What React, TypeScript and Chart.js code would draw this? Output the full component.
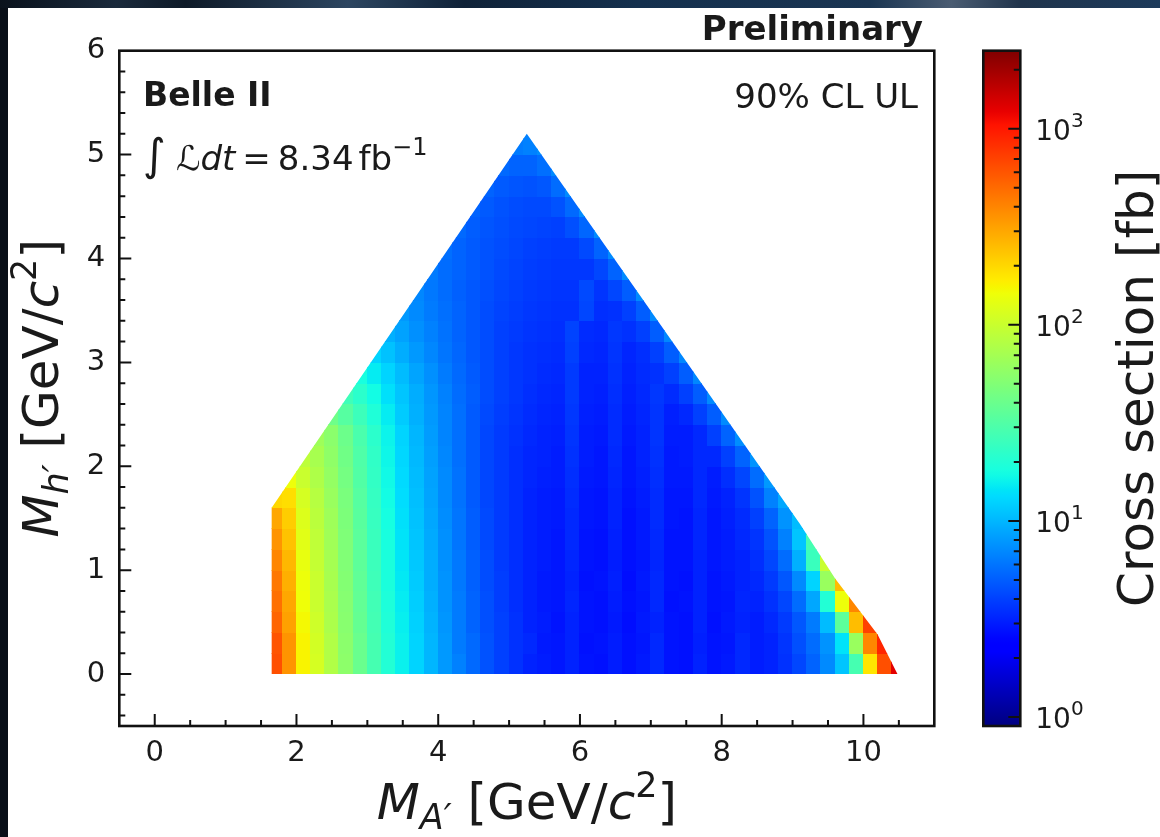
import React, { useEffect, useRef } from 'react';
import { Chart, registerables } from 'chart.js';

Chart.register(...registerables);

const FONT = '"DejaVu Sans", "Liberation Sans", sans-serif';
const INK = '#1a1a1a';

// ---------------- data ----------------
// cell centres of the scan grid
const massA = [1.7, 1.9, 2.1, 2.3, 2.5, 2.7, 2.9, 3.1, 3.3, 3.5, 3.7, 3.9, 4.1, 4.3, 4.5, 4.7, 4.9, 5.1, 5.3, 5.5, 5.7, 5.9, 6.1, 6.3, 6.5, 6.7, 6.9, 7.1, 7.3, 7.5, 7.7, 7.9, 8.1, 8.3, 8.5, 8.7, 8.9, 9.1, 9.3, 9.5, 9.7, 9.9, 10.1, 10.3, 10.5];
const massH = [0.1, 0.3, 0.5, 0.7, 0.9, 1.1, 1.3, 1.5, 1.7, 1.9, 2.1, 2.3, 2.5, 2.7, 2.9, 3.1, 3.3, 3.5, 3.7, 3.9, 4.1, 4.3, 4.5, 4.7, 4.9, 5.1];
// index in massA of the first cell of each massH row
const rowFirstCol = [0, 0, 0, 0, 0, 0, 0, 0, 0, 1, 2, 3, 4, 5, 6, 7, 8, 9, 10, 11, 12, 13, 14, 15, 16, 17];
// log10 of the 90% CL upper limit on the cross section [fb], one list per massH row
const ulRows: number[][] = [
  [2.8, 2.55, 2.2, 2.05, 1.9, 1.75, 1.6, 1.45, 1.3, 1.2, 1.1, 1.0, 0.9, 0.82, 0.74, 0.66, 0.6, 0.55, 0.5, 0.48, 0.46, 0.5, 0.45, 0.44, 0.48, 0.44, 0.47, 0.52, 0.45, 0.44, 0.5, 0.45, 0.47, 0.52, 0.48, 0.5, 0.55, 0.62, 0.72, 0.85, 1.05, 1.45, 2.25, 2.8, 3.1],
  [2.78, 2.55, 2.2, 2.04, 1.9, 1.74, 1.6, 1.45, 1.3, 1.2, 1.1, 1.0, 0.9, 0.8, 0.74, 0.66, 0.6, 0.55, 0.52, 0.47, 0.46, 0.5, 0.44, 0.45, 0.48, 0.44, 0.46, 0.52, 0.45, 0.44, 0.49, 0.45, 0.46, 0.52, 0.48, 0.5, 0.56, 0.65, 0.75, 0.88, 1.15, 1.8, 2.6, 2.95],
  [2.72, 2.5, 2.18, 2.02, 1.88, 1.73, 1.58, 1.44, 1.29, 1.19, 1.09, 0.99, 0.89, 0.8, 0.72, 0.65, 0.6, 0.55, 0.5, 0.48, 0.45, 0.5, 0.45, 0.44, 0.47, 0.43, 0.47, 0.5, 0.45, 0.44, 0.5, 0.44, 0.47, 0.5, 0.48, 0.52, 0.58, 0.68, 0.8, 1.02, 1.55, 2.4, 2.85],
  [2.68, 2.48, 2.16, 2.0, 1.87, 1.72, 1.57, 1.43, 1.28, 1.18, 1.08, 0.98, 0.88, 0.8, 0.72, 0.65, 0.59, 0.54, 0.5, 0.47, 0.46, 0.51, 0.45, 0.44, 0.48, 0.44, 0.46, 0.52, 0.44, 0.45, 0.5, 0.45, 0.46, 0.51, 0.5, 0.55, 0.62, 0.75, 0.95, 1.3, 2.15, 2.6],
  [2.65, 2.45, 2.15, 2.0, 1.86, 1.71, 1.56, 1.42, 1.27, 1.17, 1.07, 0.97, 0.88, 0.79, 0.71, 0.64, 0.59, 0.54, 0.5, 0.47, 0.46, 0.5, 0.44, 0.45, 0.49, 0.43, 0.47, 0.52, 0.45, 0.44, 0.5, 0.45, 0.47, 0.5, 0.52, 0.58, 0.68, 0.85, 1.1, 1.8, 2.4],
  [2.6, 2.42, 2.13, 1.98, 1.85, 1.7, 1.55, 1.41, 1.27, 1.16, 1.06, 0.97, 0.87, 0.79, 0.71, 0.64, 0.58, 0.54, 0.5, 0.48, 0.46, 0.51, 0.45, 0.44, 0.48, 0.44, 0.46, 0.51, 0.45, 0.45, 0.5, 0.46, 0.48, 0.5, 0.54, 0.62, 0.75, 0.98, 1.4, 2.0],
  [2.55, 2.38, 2.1, 1.96, 1.83, 1.69, 1.54, 1.4, 1.26, 1.15, 1.05, 0.96, 0.87, 0.78, 0.7, 0.63, 0.58, 0.54, 0.5, 0.48, 0.46, 0.52, 0.45, 0.44, 0.49, 0.44, 0.47, 0.52, 0.45, 0.45, 0.51, 0.46, 0.48, 0.52, 0.56, 0.66, 0.82, 1.05, 1.45],
  [2.48, 2.34, 2.08, 1.94, 1.82, 1.68, 1.53, 1.39, 1.25, 1.14, 1.04, 0.95, 0.86, 0.78, 0.7, 0.63, 0.58, 0.54, 0.5, 0.48, 0.47, 0.52, 0.46, 0.45, 0.5, 0.44, 0.47, 0.53, 0.46, 0.45, 0.51, 0.46, 0.49, 0.53, 0.6, 0.72, 0.88, 1.02],
  [2.3, 2.28, 2.05, 1.92, 1.8, 1.67, 1.52, 1.38, 1.24, 1.13, 1.03, 0.94, 0.85, 0.77, 0.69, 0.62, 0.58, 0.54, 0.5, 0.48, 0.47, 0.53, 0.46, 0.45, 0.5, 0.45, 0.48, 0.53, 0.46, 0.46, 0.52, 0.47, 0.5, 0.56, 0.66, 0.82, 0.95],
  [2.15, 2.0, 1.89, 1.78, 1.65, 1.5, 1.37, 1.23, 1.12, 1.02, 0.93, 0.85, 0.77, 0.69, 0.62, 0.58, 0.54, 0.51, 0.49, 0.48, 0.54, 0.47, 0.46, 0.51, 0.46, 0.49, 0.54, 0.47, 0.47, 0.52, 0.48, 0.54, 0.62, 0.75, 0.9],
  [1.95, 1.86, 1.76, 1.63, 1.49, 1.36, 1.22, 1.11, 1.01, 0.92, 0.84, 0.76, 0.69, 0.62, 0.58, 0.54, 0.51, 0.5, 0.48, 0.55, 0.48, 0.46, 0.52, 0.46, 0.5, 0.55, 0.47, 0.48, 0.52, 0.52, 0.6, 0.72, 0.88],
  [1.82, 1.74, 1.61, 1.47, 1.34, 1.21, 1.1, 1.0, 0.91, 0.83, 0.76, 0.69, 0.62, 0.58, 0.55, 0.52, 0.5, 0.49, 0.56, 0.48, 0.47, 0.53, 0.47, 0.5, 0.56, 0.48, 0.48, 0.52, 0.6, 0.72, 0.86],
  [1.62, 1.52, 1.41, 1.29, 1.18, 1.07, 0.98, 0.9, 0.83, 0.76, 0.69, 0.63, 0.59, 0.56, 0.53, 0.51, 0.5, 0.57, 0.49, 0.48, 0.53, 0.48, 0.51, 0.56, 0.49, 0.52, 0.6, 0.7, 0.85],
  [1.42, 1.34, 1.24, 1.14, 1.05, 0.97, 0.89, 0.82, 0.75, 0.7, 0.64, 0.6, 0.57, 0.54, 0.52, 0.51, 0.58, 0.5, 0.49, 0.54, 0.49, 0.52, 0.57, 0.53, 0.6, 0.7, 0.85],
  [1.26, 1.18, 1.1, 1.02, 0.94, 0.87, 0.8, 0.74, 0.69, 0.64, 0.6, 0.57, 0.55, 0.53, 0.52, 0.58, 0.5, 0.5, 0.55, 0.5, 0.53, 0.55, 0.6, 0.7, 0.84],
  [1.1, 1.04, 0.97, 0.9, 0.84, 0.78, 0.73, 0.68, 0.64, 0.6, 0.57, 0.55, 0.54, 0.53, 0.6, 0.52, 0.51, 0.56, 0.51, 0.54, 0.6, 0.7, 0.84],
  [0.98, 0.93, 0.87, 0.82, 0.77, 0.72, 0.68, 0.64, 0.6, 0.58, 0.56, 0.55, 0.54, 0.61, 0.53, 0.52, 0.57, 0.55, 0.6, 0.7, 0.84],
  [0.9, 0.85, 0.8, 0.76, 0.72, 0.68, 0.64, 0.61, 0.59, 0.57, 0.56, 0.55, 0.55, 0.62, 0.54, 0.55, 0.6, 0.7, 0.85],
  [0.84, 0.79, 0.75, 0.71, 0.68, 0.65, 0.62, 0.6, 0.58, 0.57, 0.56, 0.56, 0.63, 0.56, 0.62, 0.7, 0.85],
  [0.8, 0.75, 0.72, 0.69, 0.66, 0.63, 0.61, 0.59, 0.58, 0.57, 0.57, 0.57, 0.62, 0.72, 0.85],
  [0.76, 0.72, 0.69, 0.66, 0.64, 0.62, 0.6, 0.59, 0.58, 0.58, 0.63, 0.72, 0.85],
  [0.74, 0.7, 0.67, 0.65, 0.63, 0.62, 0.61, 0.6, 0.65, 0.73, 0.85],
  [0.72, 0.69, 0.66, 0.64, 0.63, 0.63, 0.66, 0.74, 0.85],
  [0.72, 0.69, 0.67, 0.66, 0.68, 0.75, 0.85],
  [0.74, 0.72, 0.72, 0.76, 0.85],
  [0.8, 0.82, 0.86],
];
// outline of the scanned (kinematically allowed) region
const edgeA = [1.65, 1.65, 5.25, 9.1, 9.6, 10.2, 10.48];
const edgeH = [0, 1.6, 5.2, 1.45, 0.92, 0.38, 0];

// axes
const xRange = [-0.5, 11];
const yRange = [-0.5, 6];
const zRange = [0.9, 2500];
const xTickValues = [0, 2, 4, 6, 8, 10];
const yTickValues = [0, 1, 2, 3, 4, 5, 6];
const zTickValues = [1, 10, 100, 1000];

// texts
const experimentLabel = 'Belle II';
const statusLabel = 'Preliminary';
const limitLabel = '90% CL UL';
const colorbarTitle = 'Cross section [fb]';

// ---------------- helpers ----------------
const JET_R = [[0, 0], [0.35, 0], [0.66, 1], [0.89, 1], [1, 0.5]];
const JET_G = [[0, 0], [0.125, 0], [0.375, 1], [0.64, 1], [0.91, 0], [1, 0]];
const JET_B = [[0, 0.5], [0.11, 1], [0.34, 1], [0.65, 0], [1, 0]];
function chan(t: number, pts: number[][]) {
  for (let i = 0; i < pts.length - 1; i++) {
    const [x0, y0] = pts[i];
    const [x1, y1] = pts[i + 1];
    if (t <= x1) return y0 + ((t - x0) / (x1 - x0)) * (y1 - y0);
  }
  return pts[pts.length - 1][1];
}
function jet(t: number) {
  const c = Math.max(0, Math.min(1, t));
  const r = Math.round(chan(c, JET_R) * 255);
  const g = Math.round(chan(c, JET_G) * 255);
  const b = Math.round(chan(c, JET_B) * 255);
  return `rgb(${r},${g},${b})`;
}
const zLogMin = Math.log10(zRange[0]);
const zLogMax = Math.log10(zRange[1]);
const normLog = (lv: number) => (lv - zLogMin) / (zLogMax - zLogMin);

type Part = { t: string; size: number; italic?: boolean; bold?: boolean; dy?: number; gap?: number };
const partFont = (p: Part) => `${p.italic ? 'italic ' : ''}${p.bold ? 'bold ' : ''}${p.size}px ${FONT}`;
function drawRich(ctx: CanvasRenderingContext2D, parts: Part[], x: number, y: number, align: 'left' | 'center' | 'right') {
  let w = 0;
  for (const p of parts) {
    ctx.font = partFont(p);
    w += (p.gap || 0) + ctx.measureText(p.t).width;
  }
  let cx = align === 'left' ? x : align === 'center' ? x - w / 2 : x - w;
  ctx.textAlign = 'left';
  ctx.textBaseline = 'alphabetic';
  for (const p of parts) {
    cx += p.gap || 0;
    ctx.font = partFont(p);
    ctx.fillText(p.t, cx, y + (p.dy || 0));
    cx += ctx.measureText(p.t).width;
  }
}

const xLabelParts: Part[] = [
  { t: 'M', size: 50, italic: true },
  { t: 'A′', size: 35, italic: true, dy: 10 },
  { t: ' [GeV/', size: 50 },
  { t: 'c', size: 50, italic: true },
  { t: '2', size: 35, dy: -22 },
  { t: ']', size: 50 },
];
const yLabelParts: Part[] = [
  { t: 'M', size: 50, italic: true },
  { t: 'h′', size: 35, italic: true, dy: 10 },
  { t: ' [GeV/', size: 50 },
  { t: 'c', size: 50, italic: true },
  { t: '2', size: 35, dy: -22 },
  { t: ']', size: 50 },
];
const lumiParts: Part[] = [
  { t: '∫', size: 44 },
  { t: 'ℒ', size: 34, gap: 10 },
  { t: 'dt', size: 34, italic: true },
  { t: '=', size: 34, gap: 7 },
  { t: '8.34', size: 34, gap: 7 },
  { t: 'fb', size: 34, gap: 5 },
  { t: '−1', size: 24, dy: -15 },
];

// ---------------- plugins ----------------
const FRAME = 8;
const backgroundPlugin = {
  id: 'pageBackground',
  beforeDraw(chart: any) {
    const { ctx, width, height } = chart;
    ctx.save();
    const g = ctx.createLinearGradient(0, 0, width, 0);
    g.addColorStop(0, '#0a121c');
    g.addColorStop(0.1, '#1a2a3c');
    g.addColorStop(0.16, '#0e1a28');
    g.addColorStop(0.3, '#2c4560');
    g.addColorStop(0.4, '#0f2238');
    g.addColorStop(0.55, '#14304e');
    g.addColorStop(0.75, '#1a3552');
    g.addColorStop(0.82, '#4a5c72');
    g.addColorStop(0.88, '#20344c');
    g.addColorStop(1, '#1c3a5a');
    ctx.fillStyle = g;
    ctx.fillRect(0, 0, width, height);
    ctx.fillStyle = '#090f18';
    ctx.fillRect(0, FRAME, FRAME, height - FRAME);
    ctx.fillStyle = '#ffffff';
    ctx.fillRect(FRAME, FRAME, width - FRAME, height - FRAME);
    ctx.restore();
  },
};

const heatmapPlugin = {
  id: 'heatmapCells',
  beforeDatasetsDraw(chart: any) {
    const { ctx } = chart;
    const xs = chart.scales.x;
    const ys = chart.scales.y;
    const cells = chart.data.datasets[0].data as { x: number; y: number; v: number }[];
    const hx = (massA[1] - massA[0]) / 2;
    const hy = (massH[1] - massH[0]) / 2;
    ctx.save();
    ctx.beginPath();
    edgeA.forEach((a, i) => {
      const px = xs.getPixelForValue(a);
      const py = ys.getPixelForValue(edgeH[i]);
      if (i === 0) ctx.moveTo(px, py);
      else ctx.lineTo(px, py);
    });
    ctx.closePath();
    ctx.clip();
    for (const c of cells) {
      const x0 = Math.floor(xs.getPixelForValue(c.x - hx));
      const x1 = Math.ceil(xs.getPixelForValue(c.x + hx));
      const y0 = Math.floor(ys.getPixelForValue(c.y + hy));
      const y1 = Math.ceil(ys.getPixelForValue(c.y - hy));
      ctx.fillStyle = jet(normLog(c.v));
      ctx.fillRect(x0, y0, x1 - x0, y1 - y0);
    }
    ctx.restore();
  },
};

const decorPlugin = {
  id: 'decorations',
  afterDraw(chart: any) {
    const { ctx, chartArea } = chart;
    const { left, right, top, bottom } = chartArea;
    const xs = chart.scales.x;
    const ys = chart.scales.y;
    const zs = chart.scales.cb;
    ctx.save();

    // axis ticks (pointing inwards)
    ctx.strokeStyle = '#111';
    ctx.lineWidth = 2;
    ctx.beginPath();
    for (let k = -1; k <= 22; k++) {
      const v = k * 0.5;
      if (v <= xRange[0] || v >= xRange[1]) continue;
      const px = xs.getPixelForValue(v);
      const len = xTickValues.includes(v) ? 12 : 6;
      ctx.moveTo(px, bottom);
      ctx.lineTo(px, bottom - len);
    }
    for (let k = -2; k <= 30; k++) {
      const v = Math.round(k * 2) / 10;
      if (v <= yRange[0] || v >= yRange[1]) continue;
      const py = ys.getPixelForValue(v);
      const len = yTickValues.includes(v) ? 12 : 6;
      ctx.moveTo(left, py);
      ctx.lineTo(left + len, py);
    }
    ctx.stroke();

    // frame
    ctx.lineWidth = 2.6;
    ctx.strokeRect(left, top, right - left, bottom - top);

    // colorbar
    const cbLeft = right + 49;
    const cbW = 37;
    const cbTop = zs.getPixelForValue(zRange[1]);
    const cbBot = zs.getPixelForValue(zRange[0]);
    const grad = ctx.createLinearGradient(0, cbBot, 0, cbTop);
    for (let i = 0; i <= 100; i++) grad.addColorStop(i / 100, jet(i / 100));
    ctx.fillStyle = grad;
    ctx.fillRect(cbLeft, cbTop, cbW, cbBot - cbTop);
    ctx.strokeStyle = '#111';
    ctx.lineWidth = 2;
    ctx.beginPath();
    for (let d = -1; d <= 3; d++) {
      for (let m = 1; m <= 9; m++) {
        const v = m * Math.pow(10, d);
        if (v < zRange[0] || v > zRange[1]) continue;
        const py = zs.getPixelForValue(v);
        const len = m === 1 ? 12 : 6.5;
        ctx.moveTo(cbLeft + cbW, py);
        ctx.lineTo(cbLeft + cbW - len, py);
      }
    }
    ctx.stroke();
    ctx.lineWidth = 2.6;
    ctx.strokeRect(cbLeft, cbTop, cbW, cbBot - cbTop);

    ctx.fillStyle = INK;
    for (const v of zTickValues) {
      const py = zs.getPixelForValue(v);
      drawRich(ctx, [
        { t: '10', size: 28 },
        { t: String(Math.round(Math.log10(v))), size: 20, dy: -13 },
      ], cbLeft + cbW + 15, py + 11, 'left');
    }

    // colorbar title
    ctx.save();
    ctx.translate(1153, (cbTop + cbBot) / 2);
    ctx.rotate(-Math.PI / 2);
    drawRich(ctx, [{ t: colorbarTitle, size: 50 }], 0, 0, 'center');
    ctx.restore();

    // axis titles
    drawRich(ctx, xLabelParts, (left + right) / 2, 819, 'center');
    ctx.save();
    ctx.translate(58, (top + bottom) / 2);
    ctx.rotate(-Math.PI / 2);
    drawRich(ctx, yLabelParts, 0, 0, 'center');
    ctx.restore();

    // annotations
    drawRich(ctx, [{ t: statusLabel, size: 34, bold: true }], 923, 40, 'right');
    drawRich(ctx, [{ t: experimentLabel, size: 33, bold: true }], 143, 106, 'left');
    drawRich(ctx, [{ t: limitLabel, size: 34 }], 918, 108, 'right');
    drawRich(ctx, lumiParts, 143, 170, 'left');

    ctx.restore();
  },
};

// ---------------- component ----------------
export default function App() {
  const ref = useRef<HTMLCanvasElement>(null);

  useEffect(() => {
    document.body.style.margin = '0';
    document.body.style.overflow = 'hidden';
    const canvas = ref.current;
    if (!canvas) return;

    const cells: { x: number; y: number; v: number }[] = [];
    ulRows.forEach((row, i) => {
      row.forEach((v, k) => {
        cells.push({ x: massA[rowFirstCol[i] + k], y: massH[i], v });
      });
    });

    const tickFont = { family: FONT, size: 29 };
    const chart = new Chart(canvas, {
      type: 'scatter',
      data: {
        datasets: [
          {
            label: 'UL',
            data: cells as any,
            pointRadius: 0,
            pointHoverRadius: 0,
            showLine: false,
          },
        ],
      },
      options: {
        responsive: false,
        animation: false,
        devicePixelRatio: 1,
        events: [],
        layout: { padding: { left: 39.3, top: 50.7, right: 0, bottom: 51 } },
        plugins: { legend: { display: false }, tooltip: { enabled: false } },
        scales: {
          x: {
            type: 'linear',
            position: 'bottom',
            min: xRange[0],
            max: xRange[1],
            grid: { display: false, drawTicks: false },
            border: { display: false },
            afterBuildTicks: (s: any) => { s.ticks = xTickValues.map((value) => ({ value })); },
            afterFit: (s: any) => { s.height = 60; },
            ticks: { font: tickFont, color: INK, padding: 10, maxRotation: 0, autoSkip: false, callback: (v: any) => String(v) },
          },
          y: {
            type: 'linear',
            position: 'left',
            min: yRange[0],
            max: yRange[1],
            grid: { display: false, drawTicks: false },
            border: { display: false },
            afterBuildTicks: (s: any) => { s.ticks = yTickValues.map((value) => ({ value })); },
            afterFit: (s: any) => { s.width = 80; },
            ticks: { font: tickFont, color: INK, padding: 14, autoSkip: false, callback: (v: any) => String(v) },
          },
          cb: {
            type: 'logarithmic',
            position: 'right',
            min: zRange[0],
            max: zRange[1],
            grid: { display: false, drawTicks: false },
            border: { display: false },
            ticks: { display: false },
            afterFit: (s: any) => { s.width = 225.7; },
          },
        },
      },
      plugins: [backgroundPlugin, heatmapPlugin, decorPlugin],
    } as any);

    return () => chart.destroy();
  }, []);

  return <canvas ref={ref} width={1160} height={837} style={{ display: 'block', width: 1160, height: 837 }} />;
}
